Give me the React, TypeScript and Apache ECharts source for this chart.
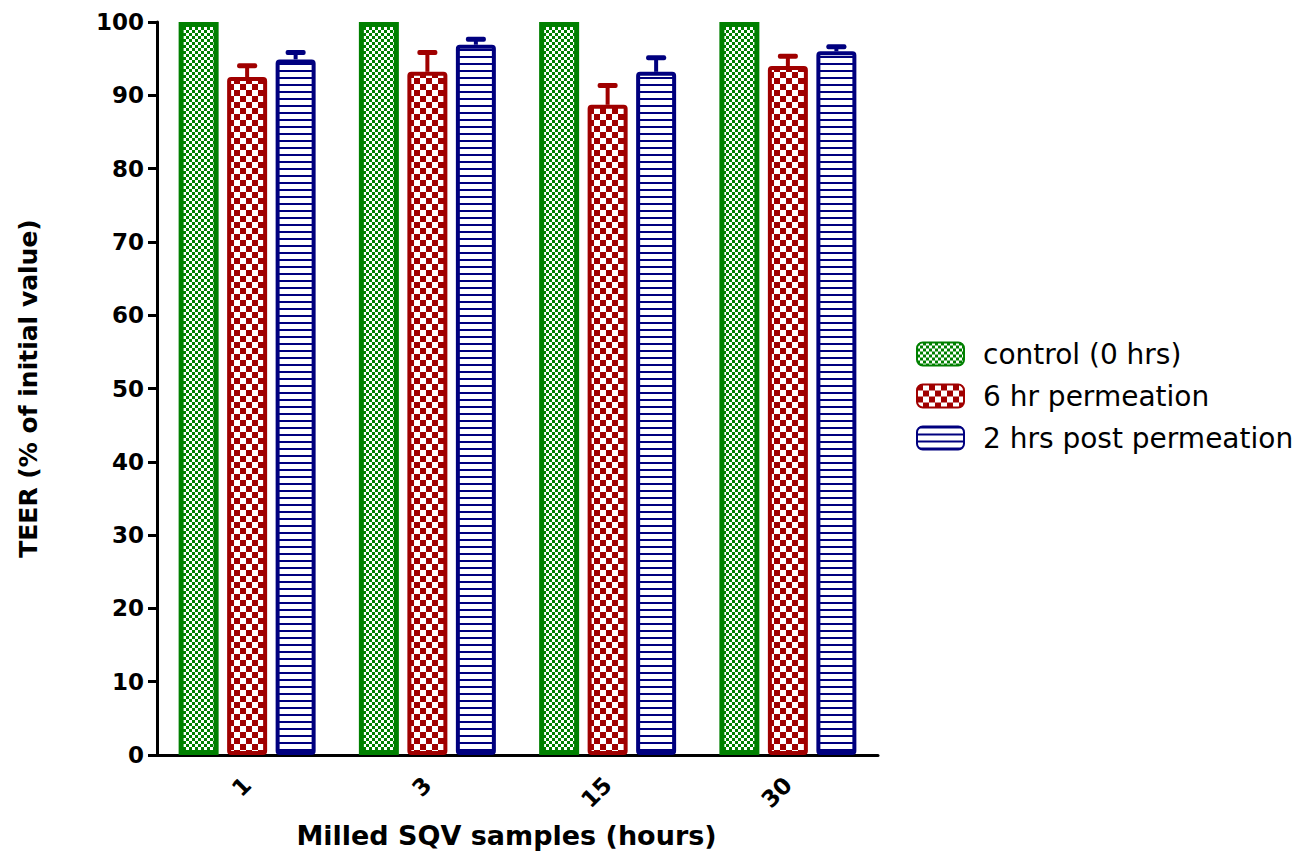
import React, { useEffect, useRef } from "react";
import * as echarts from "echarts";

const categories = ["1", "3", "15", "30"];
const seriesNames = ["control (0 hrs)", "6 hr permeation", "2 hrs post permeation"];
const control = [100, 100, 100, 100];
const perm6 = [92.5, 93.2, 88.7, 94.0];
const perm6Sem = [1.6, 2.7, 2.7, 1.4];
const post2 = [94.9, 96.9, 93.2, 96.0];
const post2Sem = [1.0, 0.8, 2.0, 0.7];
const yTicks = { min: 0, max: 100, interval: 10 };

const GREEN = "#008000";
const RED = "#A00000";
const BLUE = "#00007F";
const FONT = "DejaVu Sans";
const BAR_W = 40;
const BAR_GAP = 0.2125;

function checker(color: string, cell: number) {
  const c = document.createElement("canvas");
  c.width = cell * 2;
  c.height = cell * 2;
  const ctx = c.getContext("2d")!;
  ctx.fillStyle = "#ffffff";
  ctx.fillRect(0, 0, c.width, c.height);
  ctx.fillStyle = color;
  ctx.fillRect(0, 0, cell, cell);
  ctx.fillRect(cell, cell, cell, cell);
  return { image: c, repeat: "repeat", imageWidth: c.width, imageHeight: c.height } as any;
}

function stripes(color: string, line: number, period: number) {
  const c = document.createElement("canvas");
  c.width = 4;
  c.height = period;
  const ctx = c.getContext("2d")!;
  ctx.fillStyle = "#ffffff";
  ctx.fillRect(0, 0, c.width, c.height);
  ctx.fillStyle = color;
  ctx.fillRect(0, 0, c.width, line);
  return { image: c, repeat: "repeat", imageWidth: c.width, imageHeight: c.height } as any;
}

export default function App() {
  const ref = useRef<HTMLDivElement>(null);
  useEffect(() => {
    if (!ref.current) return;
    const chart = echarts.init(ref.current, undefined, { renderer: "svg" });
    const offset = BAR_W * (1 + BAR_GAP);

    const errSeries = (name: string, means: number[], sems: number[], shift: number, color: string) => ({
      type: "custom",
      name: name + " SEM",
      z: 1,
      data: means.map((m, i) => [i, m, m + sems[i]]),
      renderItem: (params: any, api: any) => {
        const base = api.coord([api.value(0), api.value(1)]);
        const top = api.coord([api.value(0), api.value(2)]);
        const x = base[0] + shift;
        return {
          type: "group",
          children: [
            {
              type: "rect",
              shape: { x: x - 2, y: top[1], width: 4, height: base[1] - top[1] },
              style: { fill: color },
            },
            {
              type: "rect",
              shape: { x: x - 10, y: top[1] - 2, width: 20, height: 5, r: 2 },
              style: { fill: color },
            },
          ],
        };
      },
    });

    chart.setOption({
      animation: false,
      grid: { left: 157, right: 418, top: 22, bottom: 99, containLabel: false, outerBoundsMode: "none" },
      legend: {
        left: 911,
        top: 334,
        orient: "vertical",
        itemWidth: 47,
        itemHeight: 23,
        itemGap: 12,
        data: seriesNames,
        textStyle: { fontFamily: FONT, fontSize: 28, color: "#000", lineHeight: 30, padding: [0, 0, 0, 14] },
      },
      xAxis: {
        type: "category",
        data: categories,
        name: "Milled SQV samples (hours)",
        nameLocation: "middle",
        nameGap: 67,
        nameMoveOverlap: false,
        nameTextStyle: { fontFamily: FONT, fontSize: 27, fontWeight: "bold", color: "#000", padding: [0, 22, 0, 0] },
        axisLine: { lineStyle: { color: "#000", width: 3 } },
        axisTick: { alignWithLabel: true, length: 11, lineStyle: { color: "#000", width: 3 } },
        axisLabel: { rotate: 45, margin: 26, fontFamily: FONT, fontSize: 23, fontWeight: "bold", color: "#000" },
      },
      yAxis: {
        type: "value",
        min: yTicks.min,
        max: yTicks.max,
        interval: yTicks.interval,
        name: "TEER (% of initial value)",
        nameLocation: "middle",
        nameGap: 116,
        nameMoveOverlap: false,
        nameTextStyle: { fontFamily: FONT, fontSize: 25, fontWeight: "bold", color: "#000" },
        splitLine: { show: false },
        axisLine: { show: true, lineStyle: { color: "#000", width: 3 } },
        axisTick: { show: true, length: 9, lineStyle: { color: "#000", width: 3 } },
        axisLabel: { margin: 13, fontFamily: FONT, fontSize: 23, fontWeight: "bold", color: "#000" },
      },
      series: [
        {
          type: "bar",
          name: seriesNames[0],
          data: control,
          barWidth: BAR_W,
          itemStyle: { color: checker(GREEN, 3), borderColor: GREEN, borderWidth: 5 },
          z: 2,
        },
        {
          type: "bar",
          name: seriesNames[1],
          data: perm6,
          barWidth: BAR_W,
          itemStyle: { color: checker(RED, 6), borderColor: RED, borderWidth: 4, borderRadius: 2 },
          z: 2,
        },
        {
          type: "bar",
          name: seriesNames[2],
          data: post2,
          barWidth: BAR_W,
          barGap: BAR_GAP * 100 + "%",
          itemStyle: { color: stripes(BLUE, 2, 7), borderColor: BLUE, borderWidth: 4, borderRadius: 2 },
          z: 2,
        },
        errSeries(seriesNames[1], perm6, perm6Sem, 0, RED),
        errSeries(seriesNames[2], post2, post2Sem, offset, BLUE),
      ],
    });
    return () => chart.dispose();
  }, []);
  return <div ref={ref} style={{ width: 1296, height: 854, position: "absolute", left: 0, top: 0 }} />;
}
